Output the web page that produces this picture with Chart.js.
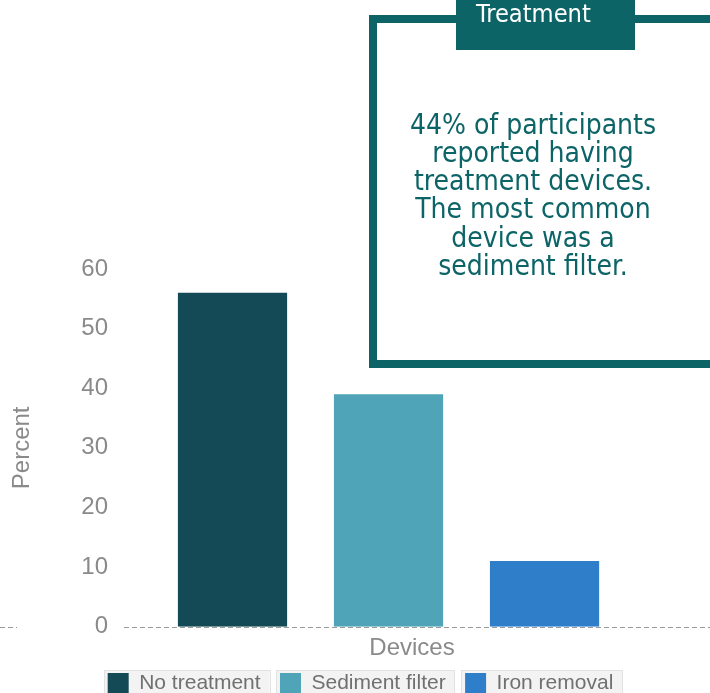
<!DOCTYPE html>
<html>
<head>
<meta charset="utf-8">
<script src="https://cdn.jsdelivr.net/npm/chart.js@4/dist/chart.umd.min.js"></script>
<style>
  html, body { margin: 0; padding: 0; background: #fff; overflow: hidden; }
  #wrap { position: relative; width: 710px; height: 704px; }
  #chart { position: absolute; left: 0; top: 0; }
  #box { position: absolute; left: 369px; top: 14.5px; width: 400px; height: 337px;
         border: 8px solid #0d6466; background: #fff; }
  #tab { position: absolute; left: 456px; top: 0; width: 179px; height: 50px; background: #0d6466; }
  #tabText { position: absolute; left: 476px; top: 0.5px; color: #fff; font-family: "DejaVu Sans Condensed", "DejaVu Sans"; font-stretch: condensed;
             font-size: 25.2px; line-height: 25.2px; white-space: pre; }
  #note { position: absolute; left: 383px; width: 300px; top: 110.5px; text-align: center; color: #0d6466;
          font-family: "DejaVu Sans Condensed", "DejaVu Sans"; font-stretch: condensed;
          font-size: 28px; line-height: 28.3px; white-space: pre; }
</style>
</head>
<body>
<div id="wrap">
  <canvas id="chart" width="710" height="704"></canvas>
  <div id="box"></div>
  <div id="tab"></div>
  <div id="tabText">Treatment</div>
  <div id="note">44% of participants
reported having
treatment devices.
The most common
device was a
sediment filter.</div>
</div>
<script>
// ---- data ----
const seriesNames = ['No treatment', 'Sediment filter', 'Iron removal'];
const seriesValues = [56, 39, 11];
const seriesPositions = [1, 2, 3];
const seriesColors = ['#134a55', '#4fa4b7', '#2f7ec9'];
const yTicks = [0, 10, 20, 30, 40, 50, 60];
const xTitle = 'Devices';
const yTitle = 'Percent';

const datasets = seriesNames.map((name, i) => ({
  label: name,
  data: [{ x: seriesPositions[i], y: seriesValues[i] }],
  backgroundColor: seriesColors[i],
  borderWidth: 0
}));

const zeroLine = {
  id: 'zeroLine',
  beforeDatasetsDraw(chart) {
    const ctx = chart.ctx;
    const y = Math.round(chart.scales.y.getPixelForValue(0)) + 0.5;
    ctx.save();
    ctx.strokeStyle = '#9a9a9a';
    ctx.lineWidth = 1;
    ctx.setLineDash([5, 3]);
    ctx.beginPath();
    ctx.moveTo(0, y); ctx.lineTo(17, y);
    ctx.moveTo(chart.chartArea.left - 1, y); ctx.lineTo(chart.width, y);
    ctx.stroke();
    ctx.restore();
  }
};

const legendBg = {
  id: 'legendBg',
  beforeDraw(chart) {
    const lg = chart.legend;
    if (!lg || !lg.legendHitBoxes) return;
    const ctx = chart.ctx;
    ctx.save();
    lg.legendHitBoxes.forEach(hb => {
      const x = hb.left - 3.7, y = hb.top - 3, w = hb.width + 3.7 + 9, h = hb.height + 8;
      ctx.fillStyle = '#f3f3f3';
      ctx.fillRect(x, y, w, h);
      ctx.strokeStyle = '#e2e2e2';
      ctx.lineWidth = 1;
      ctx.strokeRect(Math.round(x) + 0.5, Math.round(y) + 0.5, Math.round(w), Math.round(h));
    });
    ctx.restore();
  }
};

new Chart(document.getElementById('chart'), {
  type: 'bar',
  data: { datasets },
  plugins: [zeroLine, legendBg],
  options: {
    responsive: false,
    animation: false,
    devicePixelRatio: 1,
    layout: { padding: { left: 22, right: 11, top: 269, bottom: 0 } },
    datasets: { bar: { grouped: false, barPercentage: 0.7, categoryPercentage: 1.0 } },
    scales: {
      x: {
        type: 'linear',
        offset: false,
        min: 0.3109,
        max: 3.99,
        afterBuildTicks(scale) { scale.ticks = seriesPositions.map(v => ({ value: v })); },
        grid: { display: false, drawTicks: false, offset: false },
        border: { display: false },
        ticks: { display: false },
        title: {
          display: true, text: xTitle, color: '#8a8a8a',
          font: { family: 'Liberation Sans, Arial', size: 24 },
          padding: { top: 6.9, bottom: -8.8 }
        }
      },
      y: {
        min: 0, max: 60,
        afterBuildTicks(scale) { scale.ticks = yTicks.map(v => ({ value: v })); },
        grid: { display: false, drawTicks: false },
        border: { display: false },
        ticks: { color: '#8a8a8a', padding: 17, font: { family: 'Liberation Sans, Arial', size: 24 } },
        title: {
          display: true, text: yTitle, color: '#8a8a8a',
          font: { family: 'Liberation Sans, Arial', size: 24 },
          padding: { top: -14.4, bottom: 27.9 }
        }
      }
    },
    plugins: {
      tooltip: { enabled: false },
      legend: {
        position: 'bottom',
        labels: {
          boxWidth: 21, boxHeight: 21, padding: 19.4, color: '#707070',
          font: { family: 'Liberation Sans, Arial', size: 21 }
        }
      }
    }
  }
});
</script>
</body>
</html>
